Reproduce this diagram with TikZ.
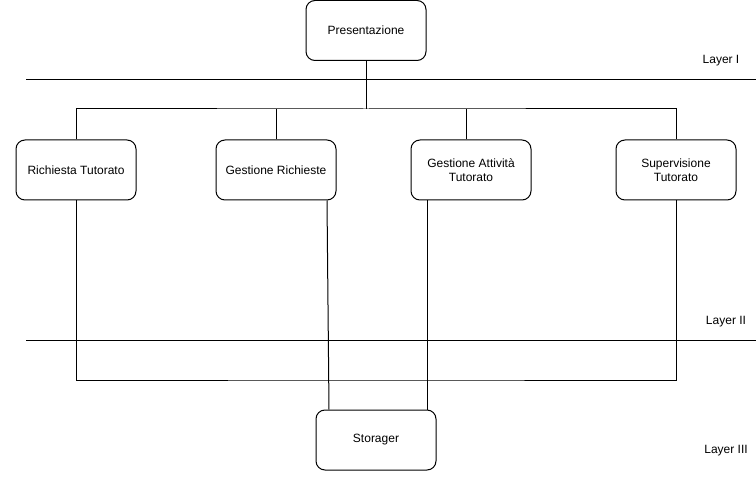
\documentclass[tikz,border=0pt]{standalone}
\usepackage{fontspec}
\setmainfont{Liberation Sans}
\begin{document}
\begin{tikzpicture}[x=1pt,y=-1pt,
  box/.style={draw=black,line width=1pt,rounded corners=9pt,minimum width=120pt,minimum height=60pt,align=center,font=\fontsize{12pt}{14pt}\selectfont,inner sep=0pt},
  lbl/.style={font=\fontsize{12pt}{14pt}\selectfont,inner sep=0pt},
  wire/.style={draw=black,line width=1pt},
  layerline/.style={draw=black,line width=1pt}]
\useasboundingbox (0,0) rectangle (756,484);
\node[box] (pres) at (366,30.5) {Presentazione};
\node[box] (rich) at (76,170) {Richiesta Tutorato};
\node[box] (gest) at (276,170) {Gestione Richieste};
\node[box] (att) at (471,170) {Gestione Attività\\Tutorato};
\node[box] (sup) at (676,170) {Supervisione\\Tutorato};
\node[box] (stor) at (376,440) {Storager};
\coordinate (l1a) at (26,80); \coordinate (l1b) at (756,80);
\coordinate (l2a) at (26,340); \coordinate (l2b) at (756,340);
\draw[layerline] (l1a) -- (l1b);
\draw[layerline] (l2a) -- (l2b);
\node[lbl] (t1) at (721,61) {Layer I};
\node[lbl] (t2) at (726,322) {Layer II};
\node[lbl] (t3) at (726,451) {Layer III};
\coordinate (bus) at (366,109);
\draw[wire] (pres.south) -- (bus);
\draw[wire] (rich.north) |- (bus) -| (sup.north);
\draw[wire] (gest.north) -- (gest.north |- bus);
\draw[wire] (att.north -| 466,0) -- (466,109);
\draw[wire] (rich.south) |- (376,380) -| (sup.south);
\draw[wire] ([xshift=51pt]gest.south) -- ([xshift=-47pt]stor.north);
\draw[wire] ([xshift=-44pt]att.south) -- ([xshift=51pt]stor.north);
\end{tikzpicture}
\end{document}
